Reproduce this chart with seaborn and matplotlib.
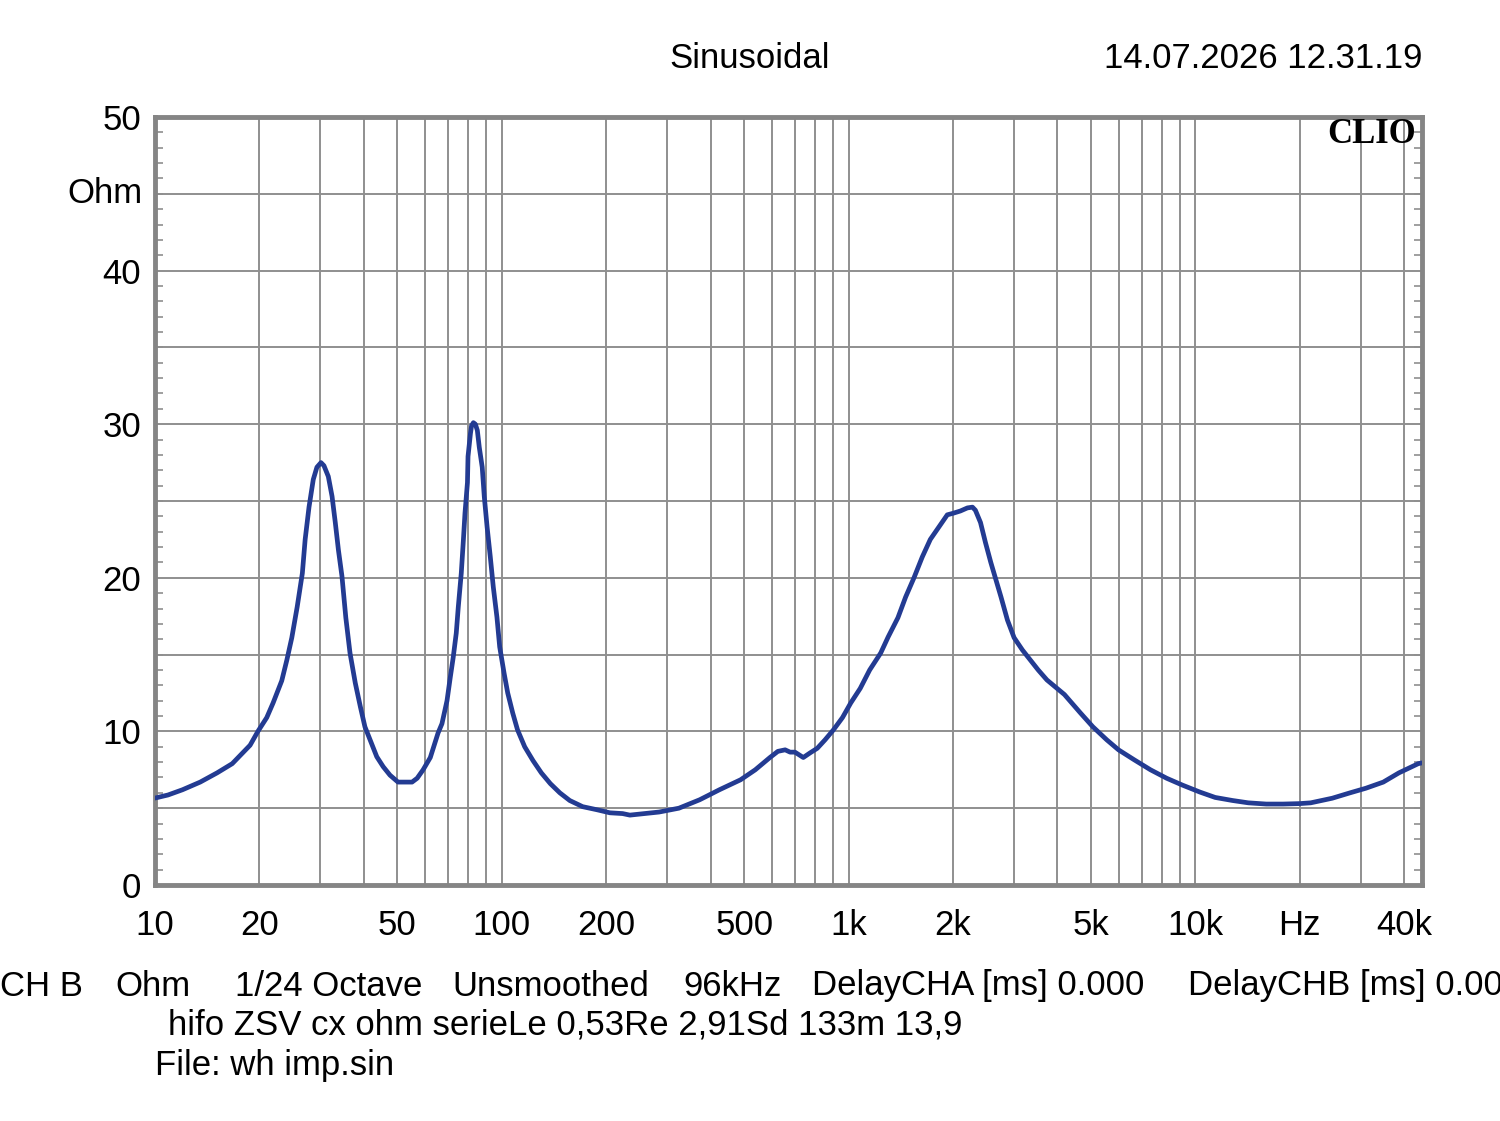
import numpy as np
import pandas as pd
import matplotlib
matplotlib.use("Agg")
import matplotlib.pyplot as plt
import seaborn as sns

# impedance curve (Hz, Ohm)
freq = [10, 10.9, 12.0, 13.5, 15.1, 16.7, 17.9, 18.8, 19.8, 21.0, 21.9, 23.2, 24.0,
        24.8, 25.7, 26.6, 27.1, 27.8, 28.6, 29.3, 30.1, 30.7, 31.6, 32.4, 33.1, 33.8,
        34.6, 35.5, 36.5, 37.8, 39.1, 40.3, 41.8, 43.6, 45.5, 47.6, 50.2, 52.7, 55.1,
        57.0, 59.3, 62.2, 65.5, 67.2, 69.5, 71.0, 72.4, 73.9, 74.9, 76.4, 77.5, 78.3,
        79.6, 79.9, 81.2, 81.8, 82.8, 83.9, 85.0, 86.1, 87.8, 89.0, 90.7, 92.6, 94.5,
        96.8, 98.6, 101.5, 104, 107.5, 111, 116.4, 123, 130, 138, 147, 157, 171, 188,
        205, 223, 234, 284, 324, 372, 424, 488, 538, 593, 625, 656, 678, 700, 740, 774,
        812, 855, 904, 960, 1014, 1080, 1150, 1237, 1300, 1387, 1460, 1543, 1630, 1720,
        1820, 1925, 2000, 2100, 2200, 2275, 2320, 2400, 2480, 2570, 2660, 2750, 2870,
        3000, 3170, 3340, 3520, 3730, 4190, 4660, 5060, 5550, 6000, 6660, 7420, 8260,
        9180, 10300, 11400, 12800, 14200, 16000, 17900, 20000, 21500, 24800, 27900,
        31000, 34800, 38600, 43900, 45000]
imp = [5.66, 5.86, 6.2, 6.7, 7.3, 7.9, 8.6, 9.1, 10.0, 10.9, 11.85, 13.3, 14.65,
       16.1, 18.1, 20.3, 22.5, 24.6, 26.4, 27.2, 27.5, 27.3, 26.6, 25.3, 23.6, 21.8,
       20.1, 17.4, 15.1, 13.15, 11.6, 10.3, 9.4, 8.35, 7.7, 7.15, 6.7, 6.7, 6.7,
       6.95, 7.5, 8.3, 9.9, 10.5, 12.0, 13.5, 14.8, 16.4, 18.1, 20.3, 22.5, 24.2,
       26.2, 27.9, 29.4, 29.9, 30.1, 30.0, 29.6, 28.5, 27.2, 25.3, 23.3, 21.4, 19.4,
       17.45, 15.5, 13.8, 12.5, 11.2, 10.1, 9.0, 8.1, 7.3, 6.6, 6.0, 5.5, 5.1, 4.9,
       4.7, 4.65, 4.55, 4.75, 5.0, 5.55, 6.2, 6.85, 7.5, 8.3, 8.7, 8.8, 8.65, 8.65, 8.3, 8.6,
       8.9, 9.45, 10.1, 10.9, 11.85, 12.8, 14.0, 15.1, 16.15, 17.4, 18.75, 20.0, 21.35, 22.5,
       23.3, 24.1, 24.2, 24.35, 24.55, 24.6, 24.4, 23.6, 22.3, 21.0, 19.85, 18.75, 17.25,
       16.1, 15.3, 14.65, 14.0, 13.35, 12.4, 11.2, 10.3, 9.45, 8.8, 8.15, 7.5, 6.95,
       6.5, 6.05, 5.7, 5.5, 5.35, 5.27, 5.27, 5.3, 5.35, 5.65, 6.0,
       6.3, 6.7, 7.3, 7.9, 7.95]

x_label_pos = [10, 20, 50, 100, 200, 500, 1000, 2000, 5000, 10000, 20000, 40000]
x_labels = ["10", "20", "50", "100", "200", "500", "1k", "2k", "5k", "10k", "Hz", "40k"]
y_label_pos = [0, 10, 20, 30, 40, 50]

title = "Sinusoidal"
stamp = "14.07.2026 12.31.19"
footer_items = ["CH B", "Ohm", "1/24 Octave", "Unsmoothed", "96kHz",
                "DelayCHA [ms] 0.000", "DelayCHB [ms] 0.000"]
footer_x = [0, 115, 235, 452, 683, 812, 1188]
footer2 = "hifo ZSV cx ohm serieLe 0,53Re 2,91Sd 133m 13,9"
footer3 = "File: wh imp.sin"

df = pd.DataFrame({"Hz": freq, "Ohm": imp})

GRID = "#8f8f8f"
FRAME = "#858585"
LINE = "#233b92"
FS = 25

sns.set_style("white")
plt.rcParams["font.family"] = ["Liberation Sans", "DejaVu Sans"]
plt.rcParams["text.color"] = "black"
plt.rcParams["xtick.color"] = "black"
plt.rcParams["ytick.color"] = "black"

fig = plt.figure(figsize=(15, 11.21), dpi=100)
ax = fig.add_axes([155 / 1500, 1 - 885 / 1121, (1422 - 155) / 1500, (885 - 117) / 1121])

sns.lineplot(data=df, x="Hz", y="Ohm", ax=ax, color=LINE, linewidth=3.4, zorder=5)

ax.set_xscale("log")
ax.set_xlim(10, 45000)
ax.set_ylim(0, 50)

# vertical grid: 1..9 per decade
grid_x = [m * 10 ** d for d in range(1, 5) for m in range(1, 10) if 10 < m * 10 ** d < 45000]
ax.set_xticks(x_label_pos)
ax.set_xticklabels(x_labels, fontsize=FS)
ax.set_xticks(grid_x, minor=True)
ax.xaxis.set_minor_formatter(plt.NullFormatter())
ax.tick_params(axis="x", which="both", length=0, pad=17)
for gx in grid_x:
    ax.axvline(gx, color=GRID, linewidth=1.4, zorder=1)

# horizontal grid every 5 ohm, small ticks every 1 ohm on both sides
ax.set_yticks(y_label_pos)
ax.set_yticklabels([str(v) for v in y_label_pos], fontsize=FS)
ax.set_yticks(np.arange(0, 51, 1), minor=True)
ax.tick_params(axis="y", which="major", length=0, pad=10)
ax.tick_params(axis="y", which="minor", direction="in", length=6, width=1.2,
               color=GRID, left=True, right=True)
for gy in range(5, 50, 5):
    ax.axhline(gy, color=GRID, linewidth=1.4, zorder=1)

ax.set_xlabel("")
ax.set_ylabel("")
for s in ax.spines.values():
    s.set_color(FRAME)
    s.set_linewidth(3.5)
    s.set_visible(True)

ax.text(-0.01, 45, "Ohm", transform=ax.get_yaxis_transform(), ha="right", va="center",
        fontsize=FS)
ax.text(0.995, 0.977, "CLIO", transform=ax.transAxes, ha="right", va="center",
        fontsize=25, fontweight="bold", family=["Liberation Serif", "DejaVu Serif"], zorder=6)

fig.text(750 / 1500, 1 - 59 / 1121, title, ha="center", va="center", fontsize=FS)
fig.text(1422 / 1500, 1 - 59 / 1121, stamp, ha="right", va="center", fontsize=FS)

# the last footer item runs off the right edge, as in the reference
for xp, item in zip(footer_x, footer_items):
    fig.text(xp / 1500, 1 - 986 / 1121, item, ha="left", va="center", fontsize=FS)
fig.text(168 / 1500, 1 - 1025 / 1121, footer2, ha="left", va="center", fontsize=FS)
fig.text(155 / 1500, 1 - 1065 / 1121, footer3, ha="left", va="center", fontsize=FS)

fig.savefig("out.png", dpi=100, facecolor="white")
